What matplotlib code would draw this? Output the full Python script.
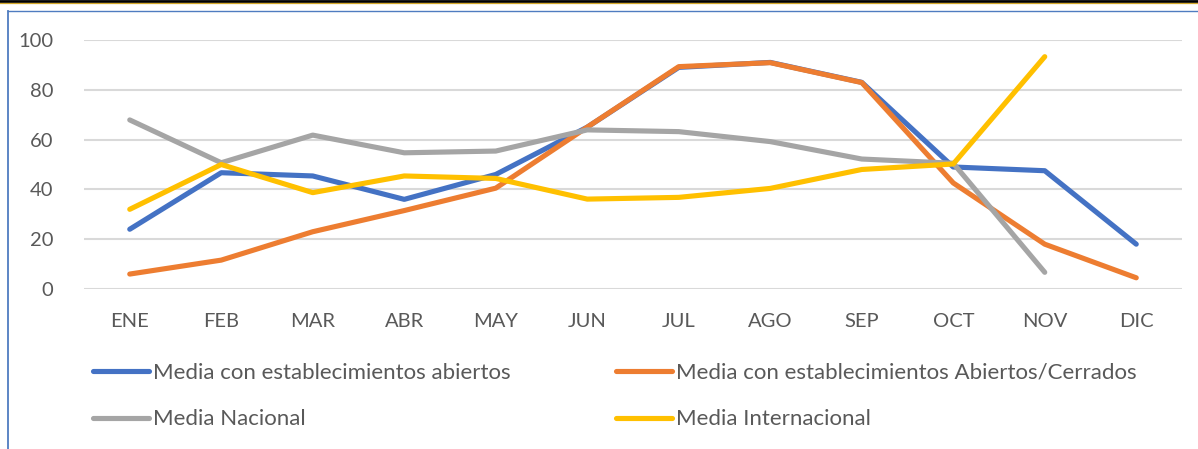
import matplotlib
matplotlib.use('Agg')
import matplotlib.pyplot as plt
from matplotlib.lines import Line2D

plt.rcParams['font.family'] = ['Lato', 'DejaVu Sans']

# Monthly values
months = ['ENE', 'FEB', 'MAR', 'ABR', 'MAY', 'JUN', 'JUL', 'AGO', 'SEP', 'OCT', 'NOV', 'DIC']
abiertos = [24, 46.7, 45.4, 36, 46, 65, 89, 91, 83, 49, 47.5, 18]
abiertos_cerrados = [6, 11.6, 23, 31.5, 40.5, 65, 89.3, 90.9, 82.9, 42.6, 18, 4.5]
nacional = [67.9, 50.7, 61.8, 54.7, 55.4, 63.9, 63.2, 59.2, 52.2, 50.5, 6.7]
internacional = [32, 50, 38.7, 45.4, 44.4, 36.1, 36.8, 40.4, 48, 50.2, 93.3]

labels = ['Media con establecimientos abiertos',
          'Media con establecimientos Abiertos/Cerrados',
          'Media Nacional',
          'Media Internacional']
colors = ['#4472C4', '#ED7D31', '#A5A5A5', '#FFC000']
text_color = '#595959'

W, H = 1198, 449
fig = plt.figure(figsize=(W / 100, H / 100), dpi=100)
ax = fig.add_axes([84 / W, 1 - 289 / H, (1182 - 84) / W, (289 - 40) / H])

x = list(range(len(months)))
series = [abiertos, abiertos_cerrados, nacional, internacional]
lines = []
for vals, color in zip(series, colors):
    ln, = ax.plot(x[:len(vals)], vals, color=color, lw=3.7,
                  solid_capstyle='round', solid_joinstyle='round', clip_on=False)
    lines.append(ln)

ax.set_xlim(-0.5, 11.5)
ax.set_ylim(0, 100)
ax.set_yticks(range(0, 101, 20))
ax.set_xticks(x)
ax.set_xticklabels(months)
ax.yaxis.grid(True, color='#D9D9D9', lw=1.5)
ax.set_axisbelow(True)
for s in ax.spines.values():
    s.set_visible(False)
ax.tick_params(axis='both', length=0, labelsize=14.5, labelcolor=text_color)
ax.tick_params(axis='y', pad=22)
ax.tick_params(axis='x', pad=17)

# Legends in two columns, placed like the original
fs = 16
common = dict(frameon=False, fontsize=fs, handlelength=2.5, handletextpad=0.18,
              labelspacing=1.2, borderpad=0, borderaxespad=0, labelcolor=text_color)
fig.legend([lines[0], lines[2]], [labels[0], labels[2]], loc='center left',
           bbox_to_anchor=(93 / W, 1 - 396 / H), **common)
fig.legend([lines[1], lines[3]], [labels[1], labels[3]], loc='center left',
           bbox_to_anchor=(616 / W, 1 - 396 / H), **common)

# Page decoration: top rule and frame
fig.add_artist(Line2D([0, 1], [1 - 1.2 / H, 1 - 1.2 / H], color='black', lw=2.0,
                      transform=fig.transFigure))
fig.add_artist(Line2D([0, 1], [1 - 3.2 / H, 1 - 3.2 / H], color='#D4A82A', lw=0.9,
                      transform=fig.transFigure))
fig.add_artist(Line2D([7.5 / W, 1], [1 - 11 / H, 1 - 11 / H], color='#4F7CC0', lw=1.0,
                      transform=fig.transFigure))
fig.add_artist(Line2D([7.5 / W, 7.5 / W], [0, 1 - 11 / H], color='#4F7CC0', lw=1.3,
                      transform=fig.transFigure))

fig.savefig('out.png', dpi=100)
